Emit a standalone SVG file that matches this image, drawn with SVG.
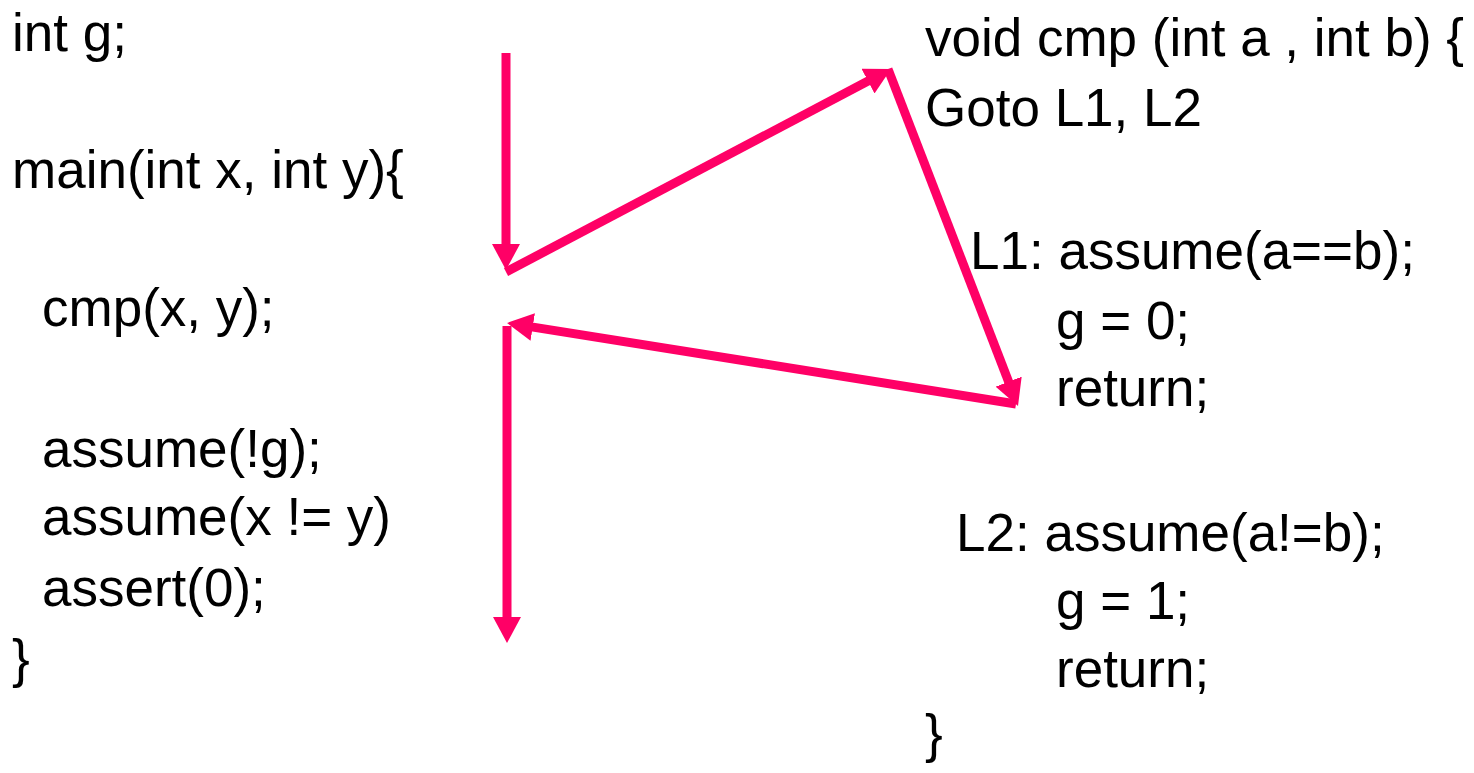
<svg xmlns="http://www.w3.org/2000/svg" width="1474" height="773" viewBox="0 0 1474 773">
<style>
text{font-family:"Liberation Sans",Arial,sans-serif;font-size:53px;fill:#000}
.c{stroke:#FF0066;stroke-width:9;fill:none;marker-end:url(#ah)}
</style>
<defs>
<marker id="ah" markerUnits="userSpaceOnUse" markerWidth="26" markerHeight="28" refX="6" refY="14" orient="auto" viewBox="0 0 26 28">
<path d="M0,0 L26,14 L0,28 z" fill="#FF0066"/>
</marker>
</defs>
<rect width="1474" height="773" fill="#fff"/>
<g id="main">
<text x="12" y="51">int g;</text>
<text x="12" y="188">main(int x, int y){</text>
<text x="42" y="326">cmp(x, y);</text>
<text x="42" y="467">assume(!g);</text>
<text x="42" y="535">assume(x != y)</text>
<text x="42" y="606">assert(0);</text>
<text x="12" y="677">}</text>
</g>
<g id="cmp">
<text x="925" y="56">void cmp (int a , int b) {</text>
<text x="925" y="126">Goto L1, L2</text>
<text x="970" y="269">L1: assume(a==b);</text>
<text x="1056" y="339">g = 0;</text>
<text x="1056" y="406">return;</text>
<text x="956" y="551">L2: assume(a!=b);</text>
<text x="1056" y="619">g = 1;</text>
<text x="1056" y="687">return;</text>
<text x="925" y="752">}</text>
</g>
<g id="connectors">
<line class="c" x1="506" y1="53" x2="506" y2="250"/>
<line class="c" x1="506" y1="272" x2="873.3" y2="78.3"/>
<line class="c" x1="888" y1="69" x2="1010.8" y2="387.3"/>
<line class="c" x1="1016" y1="404" x2="526.8" y2="326.1"/>
<line class="c" x1="507" y1="326" x2="507" y2="623"/>
</g>
</svg>
